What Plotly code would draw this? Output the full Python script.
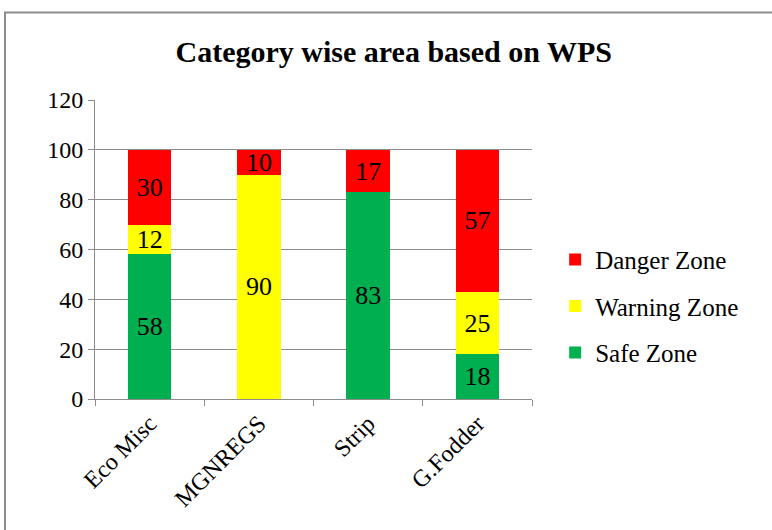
import plotly.graph_objects as go

# dados
categorias = ["Eco Misc", "MGNREGS", "Strip", "G.Fodder"]
safe_zone = [58, 0, 83, 18]
warning_zone = [12, 90, 0, 25]
danger_zone = [30, 10, 17, 57]

series = [
    ("Safe Zone", safe_zone, "#00B050", 3),
    ("Warning Zone", warning_zone, "#FFFF00", 2),
    ("Danger Zone", danger_zone, "#FF0000", 1),
]

fonte = "Liberation Serif"

fig = go.Figure()
for nome, valores, cor, ordem in series:
    fig.add_trace(go.Bar(
        x=categorias, y=valores, name=nome, legendgroup=nome, legendrank=ordem,
        marker=dict(color=cor, line=dict(width=0)),
        text=[str(v) if v else "" for v in valores],
        textposition="inside", insidetextanchor="middle", textangle=0,
        textfont=dict(family=fonte, size=26, color="black"),
    ))

fig.update_layout(
    width=772, height=530,
    barmode="stack", bargap=0.6,
    paper_bgcolor="white", plot_bgcolor="white",
    font=dict(family=fonte, size=24, color="black"),
    margin=dict(l=95, r=240, t=100, b=131),
    title=dict(text="<b>Category wise area based on WPS</b>", x=0.51, xanchor="center",
               y=0.902, yanchor="middle", font=dict(size=30)),
    uniformtext=dict(minsize=26, mode="show"),
    legend=dict(
        x=1.053, xanchor="left", y=0.31, yanchor="middle",
        traceorder="grouped", tracegroupgap=11,
        font=dict(size=25), itemwidth=30,
    ),
    shapes=[dict(type="rect", xref="paper", yref="paper",
                 x0=-90 / 437, x1=800 / 437, y0=-200 / 299, y1=386.5 / 299,
                 line=dict(color="#8c8c8c", width=2))],
)

fig.update_yaxes(range=[0, 120], dtick=20, showgrid=True, gridcolor="#8c8c8c", gridwidth=1,
                 showline=True, linecolor="#8c8c8c", ticks="outside", ticklen=6,
                 tickcolor="#8c8c8c", zeroline=False)
fig.update_xaxes(tickangle=-45, showline=True, linecolor="#8c8c8c", ticks="outside",
                 tickson="boundaries", ticklen=6, tickcolor="#8c8c8c")

# tira a margem padrão do body para o gráfico começar no canto
fig.write_html("out.html", config={"displayModeBar": False},
               post_script="document.body.style.margin='0';")
